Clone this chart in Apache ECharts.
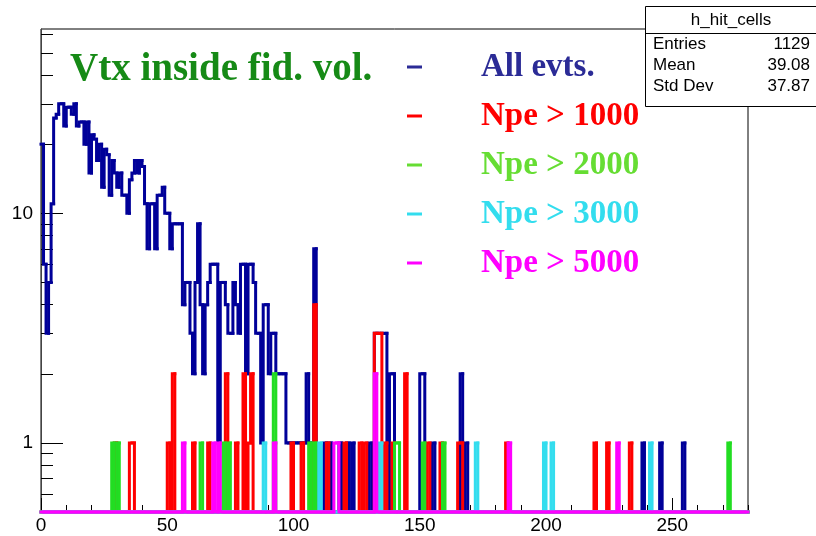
<!DOCTYPE html>
<html>
<head>
<meta charset="utf-8">
<script src="https://cdn.jsdelivr.net/npm/echarts@6/dist/echarts.min.js"></script>
<style>
  html, body { margin: 0; padding: 0; background: #fff; }
  #chart { width: 816px; height: 536px; }
</style>
</head>
<body>
<div id="chart"></div>
<script>
// Histogram binning: 280 bins of width 1 between 0 and 280, log y axis.
const X_MIN = 0, X_MAX = 280, BIN_W = 1;
const Y_MIN = 0.5, Y_MAX = 63.5;

// Tick values
const xMajorTicks = [0, 50, 100, 150, 200, 250];
const xMinorTicks = [10, 20, 30, 40, 60, 70, 80, 90, 110, 120, 130, 140, 160, 170, 180, 190,
                     210, 220, 230, 240, 260, 270, 280];
const yMajorTicks = [1, 10];
const yMinorTicks = [0.6, 0.7, 0.8, 0.9, 2, 3, 4, 5, 6, 7, 8, 9, 20, 30, 40, 50, 60];

// h_hit_cells, all events: counts per bin (bin 0 .. 279)
const allEvts = [
  20, 6, 3, 5, 11, 26, 27, 30, 30, 24,
  29, 29, 27, 30, 24, 25, 25, 20, 25, 15,
  22, 21, 17, 20, 13, 19, 18, 12, 17, 15,
  13, 15, 12, 12, 10, 14, 15, 17, 15, 17,
  16, 11, 7, 11, 11, 7, 12, 12, 13, 10,
  10, 7, 9, 9, 9, 9, 4, 5, 5, 3,
  2, 5, 9, 4, 2, 4, 5, 6, 6, 6,
  1, 5, 5, 4, 3, 3, 5, 4, 3, 6,
  6, 2, 6, 6, 5, 3, 3, 1, 4, 4,
  2, 3, 3, 2, 2, 2, 2, 1, 1, 1,
  1, 1, 1, 1, 1, 2, 1, 1, 7, 0,
  0, 0, 1, 0, 1, 0, 0, 0, 1, 0,
  0, 1, 0, 1, 0, 0, 0, 0, 0, 0,
  1, 0, 3, 3, 3, 3, 3, 0, 2, 2,
  0, 0, 0, 0, 0, 0, 0, 0, 0, 0,
  2, 2, 0, 0, 0, 1, 0, 0, 0, 0,
  0, 0, 0, 0, 0, 0, 2, 0, 1, 0,
  0, 0, 0, 0, 0, 0, 0, 0, 0, 0,
  0, 0, 0, 0, 0, 0, 0, 0, 0, 0,
  0, 0, 0, 0, 0, 0, 0, 0, 0, 0,
  0, 0, 0, 0, 0, 0, 0, 0, 0, 0,
  0, 0, 0, 0, 0, 0, 0, 0, 0, 0,
  0, 0, 0, 0, 0, 0, 0, 0, 0, 0,
  0, 0, 0, 0, 0, 0, 0, 0, 1, 0,
  0, 0, 0, 0, 0, 1, 0, 0, 0, 0,
  0, 0, 0, 0, 1, 0, 0, 0, 0, 0,
  0, 0, 0, 0, 0, 0, 0, 0, 0, 0,
  0, 0, 0, 0, 0, 0, 0, 0, 0, 0
];

// Selections on the number of photoelectrons: [bin, count] for non-empty bins
const npe1000 = [[29, 1], [35, 1], [36, 1], [50, 1], [52, 2], [60, 1], [66, 1], [73, 2], [77, 1],
                 [80, 2], [82, 1], [83, 2], [99, 1], [103, 1], [108, 4], [113, 1], [120, 1],
                 [126, 1], [128, 1], [132, 3], [133, 3], [134, 3], [136, 1], [139, 1], [144, 2],
                 [153, 1], [158, 1], [165, 1], [166, 1], [184, 1], [219, 1], [224, 1], [233, 1]];
const npe2000 = [[28, 1], [30, 1], [63, 1], [72, 1], [74, 1], [92, 2], [106, 1], [108, 1],
                 [140, 1], [141, 1], [151, 1], [159, 1], [272, 1]];
const npe3000 = [[88, 1], [110, 1], [134, 1], [172, 1], [199, 1], [202, 1], [241, 1]];
const npe5000 = [[56, 1], [68, 1], [70, 1], [92, 1], [116, 1], [117, 1], [132, 2], [185, 1], [228, 1]];

const seriesNames = ['All evts.', 'Npe > 1000', 'Npe > 2000', 'Npe > 3000', 'Npe > 5000'];
const lineColors = ['#000099', '#ff0000', '#22dd22', '#33ddee', '#ff00ff'];
const legendTextColors = ['#2b2b96', '#ff0000', '#66dd33', '#33ddee', '#ff00ff'];

const plotTitle = 'Vtx inside fid. vol.';
const statsTitle = 'h_hit_cells';
const statsLabels = ['Entries', 'Mean', 'Std Dev'];
const statsValues = ['1129', '39.08', '37.87'];

const LINE_W = 3;
const NBINS = (X_MAX - X_MIN) / BIN_W;

function expand(pairs) {
  const counts = new Array(NBINS).fill(0);
  pairs.forEach(function (p) { counts[p[0]] = p[1]; });
  return counts;
}

// Each item: [low edge, high edge, count, previous bin count]
function binItems(counts) {
  return counts.map(function (c, i) {
    return [X_MIN + i * BIN_W, X_MIN + (i + 1) * BIN_W, c, i > 0 ? counts[i - 1] : c];
  });
}

// Histogram outline drawn bin by bin; empty bins sit on the bottom of the frame.
function stepRenderer(color) {
  return function (params, api) {
    const x0 = api.value(0), x1 = api.value(1), c = api.value(2), p = api.value(3);
    const base = api.coord([x0, Y_MIN])[1];
    const yAt = function (v) { return v > 0 ? api.coord([x0, v])[1] : base; };
    const left = api.coord([x0, Y_MIN])[0];
    const right = api.coord([x1, Y_MIN])[0];
    return {
      type: 'polyline',
      silent: true,
      shape: { points: [[left, yAt(p)], [left, yAt(c)], [right, yAt(c)]] },
      style: { stroke: color, fill: null, lineWidth: LINE_W, lineCap: 'square', lineJoin: 'miter' }
    };
  };
}

const countsList = [allEvts, expand(npe1000), expand(npe2000), expand(npe3000), expand(npe5000)];

const series = countsList.map(function (counts, k) {
  return {
    type: 'custom',
    name: seriesNames[k],
    xAxisIndex: 0,
    yAxisIndex: 0,
    clip: false,
    z: 2 + k,
    itemStyle: { color: lineColors[k] },
    encode: { x: [0, 1], y: 2 },
    data: binItems(counts),
    renderItem: stepRenderer(lineColors[k])
  };
});

const axisFont = { fontSize: 19, color: '#000', fontFamily: 'Liberation Sans' };

const option = {
  backgroundColor: '#fff',
  animation: false,
  title: {
    text: plotTitle,
    left: 70,
    top: 50,
    padding: 0,
    textStyle: { fontFamily: 'Liberation Serif', fontWeight: 'bold', fontSize: 39, color: '#168a16' }
  },
  legend: {
    orient: 'vertical',
    left: 407,
    top: 50,
    padding: 0,
    itemWidth: 15,
    itemHeight: 3,
    itemGap: 15,
    selectedMode: false,
    icon: 'rect',
    data: seriesNames.map(function (n, k) {
      return { name: n, itemStyle: { color: legendTextColors[k] }, textStyle: { color: legendTextColors[k] } };
    }),
    textStyle: { fontFamily: 'Liberation Serif', fontWeight: 'bold', fontSize: 33, lineHeight: 34, padding: [0, 0, 0, 54] }
  },
  grid: { left: 41, right: 68, top: 29, bottom: 24, show: true, borderColor: '#000', borderWidth: 1, containLabel: false },
  xAxis: [
    {
      type: 'value', min: X_MIN, max: X_MAX, position: 'bottom',
      axisLine: { show: true, lineStyle: { color: '#000', width: 1 } },
      splitLine: { show: false },
      axisTick: { show: true, inside: true, length: 14, customValues: xMajorTicks, lineStyle: { color: '#000', width: 1 } },
      axisLabel: Object.assign({ customValues: xMajorTicks, margin: 4 }, axisFont)
    },
    {
      type: 'value', min: X_MIN, max: X_MAX, position: 'bottom',
      axisLine: { show: false },
      splitLine: { show: false },
      axisTick: { show: true, inside: true, length: 7, customValues: xMinorTicks, lineStyle: { color: '#000', width: 1 } },
      axisLabel: { show: false }
    }
  ],
  yAxis: [
    {
      type: 'log', logBase: 10, min: Y_MIN, max: Y_MAX, position: 'left',
      axisLine: { show: true, lineStyle: { color: '#444', width: 1 } },
      splitLine: { show: false },
      axisTick: { show: true, inside: true, length: 22, customValues: yMajorTicks, lineStyle: { color: '#000', width: 1 } },
      axisLabel: Object.assign({ customValues: yMajorTicks, margin: 8 }, axisFont)
    },
    {
      type: 'log', logBase: 10, min: Y_MIN, max: Y_MAX, position: 'left',
      axisLine: { show: false },
      splitLine: { show: false },
      axisTick: { show: true, inside: true, length: 12, customValues: yMinorTicks, lineStyle: { color: '#000', width: 1 } },
      axisLabel: { show: false }
    }
  ],
  graphic: [
    {
      type: 'group', left: 643, top: 6, z: 100,
      children: [
        { type: 'rect', shape: { x: 0.5, y: 0.5, width: 171, height: 100 }, style: { fill: '#fff', stroke: '#000', lineWidth: 1 } },
        { type: 'line', shape: { x1: 0.5, y1: 27.5, x2: 171.5, y2: 27.5 }, style: { stroke: '#000', lineWidth: 1 } },
        { type: 'text', x: 86, y: 14, style: { text: statsTitle, font: '17px "Liberation Sans"', fill: '#000', align: 'center', verticalAlign: 'middle' } }
      ].concat(statsLabels.map(function (lab, i) {
        return { type: 'text', x: 8, y: 38 + i * 21, style: { text: lab, font: '17px "Liberation Sans"', fill: '#000', align: 'left', verticalAlign: 'middle' } };
      })).concat(statsValues.map(function (val, i) {
        return { type: 'text', x: 165, y: 38 + i * 21, style: { text: val, font: '17px "Liberation Sans"', fill: '#000', align: 'right', verticalAlign: 'middle' } };
      }))
    }
  ],
  series: series
};

const chart = echarts.init(document.getElementById('chart'));
chart.setOption(option);
</script>
</body>
</html>
